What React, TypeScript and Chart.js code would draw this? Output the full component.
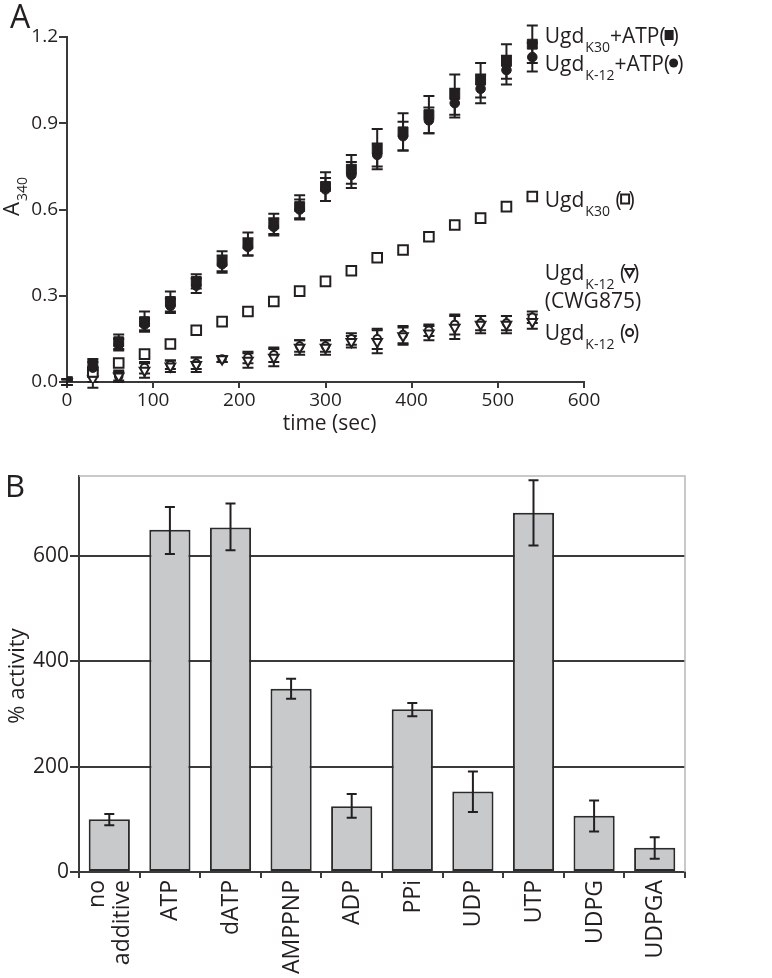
import React, { useEffect, useRef } from 'react';
import { Chart, registerables } from 'chart.js';

Chart.register(...registerables);

const FONT = '"Open Sans", "DejaVu Sans", sans-serif';
const INK = '#231f20';
const AXIS = '#3a3a3a';

// ---------- Panel A data ----------
const timeSec = [0, 30, 60, 90, 120, 150, 180, 210, 240, 270, 300, 330, 360, 390, 420, 450, 480, 510, 540];
const ugdK30Atp = [0, 0.06, 0.14, 0.21, 0.28, 0.35, 0.42, 0.48, 0.55, 0.61, 0.68, 0.74, 0.81, 0.87, 0.93, 1.0, 1.05, 1.115, 1.175];
const ugdK30AtpErr = [0.01, 0.02, 0.025, 0.035, 0.035, 0.025, 0.035, 0.04, 0.035, 0.04, 0.05, 0.05, 0.07, 0.065, 0.065, 0.07, 0.06, 0.06, 0.065];
const ugdK12Atp = [0, 0.05, 0.13, 0.2, 0.265, 0.335, 0.41, 0.47, 0.54, 0.6, 0.67, 0.72, 0.79, 0.855, 0.91, 0.97, 1.02, 1.085, 1.13];
const ugdK12AtpErr = [0.01, 0.02, 0.02, 0.02, 0.025, 0.025, 0.03, 0.03, 0.03, 0.035, 0.04, 0.045, 0.04, 0.05, 0.045, 0.05, 0.05, 0.05, 0.05];
const ugdK30 = [0, 0.035, 0.066, 0.097, 0.132, 0.18, 0.21, 0.245, 0.28, 0.316, 0.35, 0.387, 0.432, 0.459, 0.505, 0.546, 0.57, 0.61, 0.645];
const ugdK12Cwg875 = [0, 0.01, 0.02, 0.04, 0.055, 0.06, 0.08, 0.075, 0.085, 0.12, 0.12, 0.14, 0.14, 0.16, 0.17, 0.19, 0.2, 0.2, 0.21];
const ugdK12Cwg875Err = [0.01, 0.03, 0.02, 0.025, 0.02, 0.025, 0.01, 0.025, 0.03, 0.025, 0.025, 0.02, 0.04, 0.03, 0.025, 0.04, 0.03, 0.03, 0.025];
const ugdK12 = [0, 0.025, 0.02, 0.05, 0.06, 0.065, 0.08, 0.085, 0.095, 0.125, 0.125, 0.15, 0.15, 0.165, 0.18, 0.2, 0.205, 0.205, 0.225];
const ugdK12Err = [0.01, 0.025, 0.015, 0.02, 0.015, 0.02, 0.01, 0.02, 0.025, 0.02, 0.02, 0.02, 0.035, 0.03, 0.02, 0.035, 0.025, 0.025, 0.02];
const xTicksA = [0, 100, 200, 300, 400, 500, 600];
const yTicksA = [0, 0.3, 0.6, 0.9, 1.2];

// ---------- Panel B data ----------
const additives: (string | string[])[] = [['no', 'additive'], 'ATP', 'dATP', 'AMPPNP', 'ADP', 'PPi', 'UDP', 'UTP', 'UDPG', 'UDPGA'];
const percentActivity = [100, 650, 654, 348, 125, 309, 153, 682, 107, 46];
const activityLow = [89, 604, 611, 329, 103, 296, 114, 620, 77, 25];
const activityHigh = [110, 693, 700, 367, 148, 321, 191, 744, 136, 66];
const yTicksB = [0, 200, 400, 600];
const yMaxB = 752;

// legend rows for panel A (text layout)
const legendRowsA = [
  { main: 'Ugd', sub: 'K30', tail: '+ATP', marker: 'fsquare', baseline: 42.5 },
  { main: 'Ugd', sub: 'K-12', tail: '+ATP', marker: 'fcircle', baseline: 70.5 },
  { main: 'Ugd', sub: 'K30', tail: ' ', marker: 'osquare', baseline: 206.5 },
  { main: 'Ugd', sub: 'K-12', tail: ' ', marker: 'otri', baseline: 280 },
  { main: '(CWG875)', sub: '', tail: '', marker: '', baseline: 308 },
  { main: 'Ugd', sub: 'K-12', tail: ' ', marker: 'ocircle', baseline: 340 },
];

function drawErrorBars(chart: any, cap: number, width: number, color: string) {
  const ctx = chart.ctx;
  const ys = chart.scales.y;
  chart.data.datasets.forEach((ds: any, i: number) => {
    if (!ds.errLow) return;
    const meta = chart.getDatasetMeta(i);
    ctx.save();
    ctx.strokeStyle = color;
    ctx.lineWidth = width;
    meta.data.forEach((el: any, j: number) => {
      const lo = ds.errLow[j];
      const hi = ds.errHigh[j];
      if (lo == null || hi == null) return;
      const x = el.x;
      const y1 = ys.getPixelForValue(lo);
      const y2 = ys.getPixelForValue(hi);
      ctx.beginPath();
      ctx.moveTo(x, y1);
      ctx.lineTo(x, y2);
      ctx.moveTo(x - cap / 2, y1);
      ctx.lineTo(x + cap / 2, y1);
      ctx.moveTo(x - cap / 2, y2);
      ctx.lineTo(x + cap / 2, y2);
      ctx.stroke();
    });
    ctx.restore();
  });
}

function drawMarker(ctx: CanvasRenderingContext2D, kind: string, cx: number, cy: number) {
  ctx.save();
  ctx.fillStyle = INK;
  ctx.strokeStyle = INK;
  ctx.lineWidth = 2;
  ctx.beginPath();
  if (kind === 'fsquare') {
    ctx.fillRect(cx - 4.5, cy - 5, 9, 10);
  } else if (kind === 'fcircle') {
    ctx.arc(cx, cy, 4.5, 0, Math.PI * 2);
    ctx.fill();
  } else if (kind === 'osquare') {
    ctx.strokeRect(cx - 4, cy - 4.5, 8, 9);
  } else if (kind === 'otri') {
    ctx.moveTo(cx - 4.5, cy - 3.5);
    ctx.lineTo(cx + 4.5, cy - 3.5);
    ctx.lineTo(cx, cy + 4.5);
    ctx.closePath();
    ctx.stroke();
  } else if (kind === 'ocircle') {
    ctx.arc(cx, cy, 3.5, 0, Math.PI * 2);
    ctx.stroke();
  }
  ctx.restore();
}

const annotationsA = {
  id: 'annotationsA',
  afterDraw(chart: any) {
    const ctx = chart.ctx as CanvasRenderingContext2D;
    const xs = chart.scales.x;
    const y = chart.scales.y;
    const mainFont = `21px ${FONT}`;
    const subFont = `14px ${FONT}`;
    const x0 = xs.getPixelForValue(timeSec[timeSec.length - 1]) + 12.5;
    ctx.save();
    ctx.fillStyle = INK;
    ctx.textBaseline = 'alphabetic';
    ctx.textAlign = 'left';
    legendRowsA.forEach((r) => {
      let x = x0;
      ctx.font = mainFont;
      ctx.fillText(r.main, x, r.baseline);
      x += ctx.measureText(r.main).width;
      if (r.sub) {
        ctx.font = subFont;
        ctx.fillText(r.sub, x + 1, r.baseline + 9);
        x += ctx.measureText(r.sub).width + 1;
      }
      if (r.marker) {
        ctx.font = mainFont;
        ctx.fillText(r.tail + '(', x, r.baseline);
        x += ctx.measureText(r.tail + '(').width;
        const cx = x + 3.5;
        drawMarker(ctx, r.marker, cx, r.baseline - 7.5);
        ctx.font = mainFont;
        ctx.fillText(')', cx + 3.5, r.baseline);
      }
    });

    // panel letter
    ctx.font = `32px ${FONT}`;
    ctx.fillText('A', 10, 28);

    // y title A340 (rotated)
    ctx.save();
    ctx.translate(19, 216);
    ctx.rotate(-Math.PI / 2);
    ctx.font = `22px ${FONT}`;
    ctx.fillText('A', 0, 0);
    const wA = ctx.measureText('A').width;
    ctx.font = `14px ${FONT}`;
    ctx.fillText('340', wA + 1, 8);
    ctx.restore();

    // x title
    ctx.font = `21px ${FONT}`;
    ctx.textAlign = 'center';
    ctx.fillText('time (sec)', (chart.chartArea.left + chart.chartArea.right) / 2 + 4, y.bottom + 48);
    ctx.restore();
  },
};

const errorBarsA = {
  id: 'errorBarsA',
  beforeDatasetsDraw(chart: any) {
    drawErrorBars(chart, 11, 2, INK);
  },
};

const errorBarsB = {
  id: 'errorBarsB',
  afterDatasetsDraw(chart: any) {
    drawErrorBars(chart, 10, 2, INK);
  },
};

const decorationsB = {
  id: 'decorationsB',
  afterDraw(chart: any) {
    const ctx = chart.ctx as CanvasRenderingContext2D;
    const a = chart.chartArea;
    const xs = chart.scales.x;
    ctx.save();
    ctx.strokeStyle = '#b8b8b8';
    ctx.lineWidth = 1.5;
    ctx.beginPath();
    ctx.moveTo(a.left, a.top);
    ctx.lineTo(a.right, a.top);
    ctx.lineTo(a.right, a.bottom);
    ctx.stroke();

    ctx.fillStyle = INK;
    ctx.font = `31px ${FONT}`;
    ctx.textAlign = 'left';
    ctx.textBaseline = 'alphabetic';
    ctx.fillText('B', 5, 37);

    // category labels, rotated, reading upward, top-aligned under the axis
    const lineH = 25;
    ctx.font = `23px ${FONT}`;
    ctx.textAlign = 'right';
    ctx.textBaseline = 'middle';
    chart.data.labels.forEach((lab: any, i: number) => {
      const lines: string[] = Array.isArray(lab) ? lab : [lab];
      const px = xs.getPixelForTick(i);
      lines.forEach((ln, j) => {
        ctx.save();
        ctx.translate(px + (j - (lines.length - 1) / 2) * lineH + 1, xs.top + 8);
        ctx.rotate(-Math.PI / 2);
        ctx.fillText(ln, 0, 0);
        ctx.restore();
      });
    });

    ctx.save();
    ctx.textBaseline = 'alphabetic';
    ctx.translate(24, (a.top + a.bottom) / 2 + 2);
    ctx.rotate(-Math.PI / 2);
    ctx.textAlign = 'center';
    ctx.font = `22px ${FONT}`;
    ctx.fillText('% activity', 0, 0);
    ctx.restore();
    ctx.restore();
  },
};

function pts(vals: number[]) {
  return timeSec.map((t, i) => ({ x: t, y: vals[i] }));
}
function lo(vals: number[], err: number[]) {
  return vals.map((v, i) => v - err[i]);
}
function hi(vals: number[], err: number[]) {
  return vals.map((v, i) => v + err[i]);
}

export default function App() {
  const refA = useRef<HTMLCanvasElement>(null);
  const refB = useRef<HTMLCanvasElement>(null);

  useEffect(() => {
    Chart.defaults.font.family = FONT;
    const chartA = new Chart(refA.current as HTMLCanvasElement, {
      type: 'scatter',
      data: {
        datasets: [
          {
            label: 'UgdK30+ATP',
            data: pts(ugdK30Atp),
            pointStyle: 'rect',
            pointRadius: 7,
            backgroundColor: INK,
            borderColor: INK,
            borderWidth: 1,
            errLow: lo(ugdK30Atp, ugdK30AtpErr),
            errHigh: hi(ugdK30Atp, ugdK30AtpErr),
          } as any,
          {
            label: 'UgdK-12+ATP',
            data: pts(ugdK12Atp),
            pointStyle: 'circle',
            pointRadius: 4.8,
            backgroundColor: INK,
            borderColor: INK,
            borderWidth: 1,
            errLow: lo(ugdK12Atp, ugdK12AtpErr),
            errHigh: hi(ugdK12Atp, ugdK12AtpErr),
          } as any,
          {
            label: 'UgdK30',
            data: pts(ugdK30),
            pointStyle: 'rect',
            pointRadius: 6.8,
            backgroundColor: '#ffffff',
            borderColor: INK,
            borderWidth: 2,
          } as any,
          {
            label: 'UgdK-12 (CWG875)',
            data: pts(ugdK12Cwg875),
            pointStyle: 'triangle',
            rotation: 180,
            pointRadius: 5.5,
            backgroundColor: '#ffffff',
            borderColor: INK,
            borderWidth: 2,
            errLow: lo(ugdK12Cwg875, ugdK12Cwg875Err),
            errHigh: hi(ugdK12Cwg875, ugdK12Cwg875Err),
          } as any,
          {
            label: 'UgdK-12',
            data: pts(ugdK12),
            pointStyle: 'circle',
            pointRadius: 3.8,
            backgroundColor: '#ffffff',
            borderColor: INK,
            borderWidth: 2,
            errLow: lo(ugdK12, ugdK12Err),
            errHigh: hi(ugdK12, ugdK12Err),
          } as any,
        ],
      },
      options: {
        responsive: false,
        animation: false,
        devicePixelRatio: 1,
        events: [],
        layout: { padding: { left: 0, top: 37, right: 188, bottom: 10 } },
        plugins: { legend: { display: false }, tooltip: { enabled: false } },
        scales: {
          x: {
            type: 'linear',
            min: 0,
            max: 600,
            afterFit: (s: any) => {
              s.height = 48;
            },
            afterBuildTicks: (s: any) => {
              s.ticks = xTicksA.map((v) => ({ value: v }));
            },
            ticks: { font: { family: FONT, size: 19 }, color: INK, padding: 1 },
            grid: { drawOnChartArea: false, drawTicks: true, tickLength: 6, color: AXIS, lineWidth: 2 },
            border: { display: true, color: AXIS, width: 2 },
          },
          y: {
            type: 'linear',
            min: 0,
            max: 1.2,
            afterFit: (s: any) => {
              s.width = 67;
            },
            afterBuildTicks: (s: any) => {
              s.ticks = yTicksA.map((v) => ({ value: v }));
            },
            ticks: {
              font: { family: FONT, size: 19 },
              color: INK,
              padding: 1,
              callback: (v: any) => Number(v).toFixed(1),
            },
            grid: { drawOnChartArea: false, drawTicks: true, tickLength: 8, color: AXIS, lineWidth: 2 },
            border: { display: true, color: AXIS, width: 2 },
          },
        },
      } as any,
      plugins: [errorBarsA, annotationsA],
    });

    const chartB = new Chart(refB.current as HTMLCanvasElement, {
      type: 'bar',
      data: {
        labels: additives as any,
        datasets: [
          {
            label: '% activity',
            data: percentActivity,
            backgroundColor: '#c8c9cb',
            borderColor: '#2b2b2b',
            borderWidth: 2,
            borderSkipped: false,
            barPercentage: 0.68,
            categoryPercentage: 1,
            errLow: activityLow,
            errHigh: activityHigh,
          } as any,
        ],
      },
      options: {
        responsive: false,
        animation: false,
        devicePixelRatio: 1,
        events: [],
        layout: { padding: { left: 0, top: 16, right: 87, bottom: 0 } },
        plugins: { legend: { display: false }, tooltip: { enabled: false } },
        scales: {
          x: {
            type: 'category',
            afterFit: (s: any) => {
              s.height = 106;
            },
            ticks: { display: false },
            grid: { drawOnChartArea: false, drawTicks: true, tickLength: 6, color: AXIS, lineWidth: 2, offset: true },
            border: { display: true, color: AXIS, width: 2 },
          },
          y: {
            type: 'linear',
            min: 0,
            max: yMaxB,
            afterFit: (s: any) => {
              s.width = 79;
            },
            afterBuildTicks: (s: any) => {
              s.ticks = yTicksB.map((v) => ({ value: v }));
            },
            ticks: { font: { family: FONT, size: 21 }, color: INK, padding: 1 },
            grid: { drawOnChartArea: true, drawTicks: true, tickLength: 9, color: AXIS, lineWidth: 2 },
            border: { display: true, color: AXIS, width: 2 },
          },
        },
      } as any,
      plugins: [errorBarsB, decorationsB],
    });

    return () => {
      chartA.destroy();
      chartB.destroy();
    };
  }, []);

  return (
    <div style={{ position: 'absolute', left: 0, top: 0, width: 772, height: 978, background: '#ffffff' }}>
      <canvas
        ref={refA}
        width={772}
        height={440}
        style={{ position: 'absolute', left: 0, top: 0, width: 772, height: 440 }}
      />
      <canvas
        ref={refB}
        width={772}
        height={518}
        style={{ position: 'absolute', left: 0, top: 460, width: 772, height: 518 }}
      />
    </div>
  );
}
